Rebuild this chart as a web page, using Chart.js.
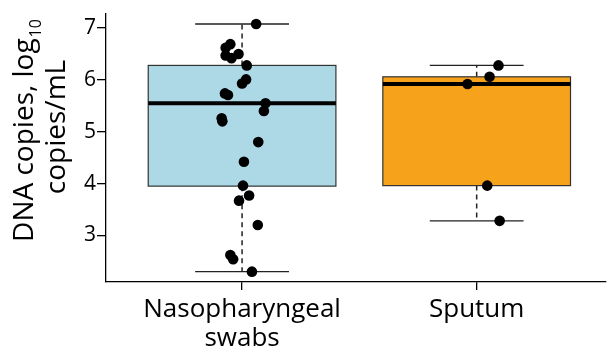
<!DOCTYPE html>
<html>
<head>
<meta charset="utf-8">
<script src="https://cdn.jsdelivr.net/npm/chart.js@4"></script>
<style>
  html, body { margin: 0; padding: 0; background: #fff; }
  #wrap { width: 611px; height: 353px; }
</style>
</head>
<body>
<div id="wrap"><canvas id="chart-dna"></canvas></div>
<script>
// categories and tick labels
var categories = [["Nasopharyngeal", "swabs"], ["Sputum"]];
var yTicks = [3, 4, 5, 6, 7];

// box statistics, one entry per category
var whiskerLow  = [2.30, 3.28];
var q1          = [3.95, 3.96];
var median      = [5.55, 5.92];
var q3          = [6.28, 6.06];
var whiskerHigh = [7.08, 6.28];

// individual samples (value + horizontal jitter)
var npValues = [7.08, 6.69, 6.62, 6.47, 6.42, 6.50, 6.28, 6.01, 5.93, 5.74, 5.71, 5.55,
                5.40, 5.26, 5.20, 4.80, 4.42, 3.96, 3.77, 3.67, 3.20, 2.62, 2.54, 2.30];
var npJitter = [0.06, -0.05, -0.07, -0.07, -0.045, -0.015, 0.02, 0.017, 0, -0.073, -0.06, 0.1,
                0.093, -0.087, -0.084, 0.069, 0.008, 0.004, 0.03, -0.013, 0.067, -0.05, -0.038, 0.042];
var sputumValues = [6.28, 6.06, 5.92, 3.96, 3.28];
var sputumJitter = [0.093, 0.055, -0.039, 0.045, 0.098];

var boxColors = ['#ADD8E6', '#F7A21B'];

function toPoints(values, jitter, pos) {
    return values.map(function (v, i) { return { x: pos + jitter[i], y: v }; });
}

// draws boxes and whiskers underneath the dots
var boxPlugin = {
    id: 'boxes',
    beforeDatasetsDraw: function (chart) {
        var ctx = chart.ctx;
        var xs = chart.scales.x, ys = chart.scales.y;
        for (var i = 0; i < categories.length; i++) {
            var pos = i + 1;
            var cx = xs.getPixelForValue(pos);
            var xl = xs.getPixelForValue(pos - 0.4), xr = xs.getPixelForValue(pos + 0.4);
            var cl = xs.getPixelForValue(pos - 0.2), cr = xs.getPixelForValue(pos + 0.2);
            var yq1 = ys.getPixelForValue(q1[i]), yq3 = ys.getPixelForValue(q3[i]);
            var ymed = ys.getPixelForValue(median[i]);
            var ylo = ys.getPixelForValue(whiskerLow[i]), yhi = ys.getPixelForValue(whiskerHigh[i]);
            ctx.save();
            // dashed whiskers
            ctx.strokeStyle = '#222';
            ctx.lineWidth = 1.5;
            ctx.setLineDash([5, 4]);
            ctx.beginPath();
            ctx.moveTo(cx, yq3); ctx.lineTo(cx, yhi);
            ctx.moveTo(cx, yq1); ctx.lineTo(cx, ylo);
            ctx.stroke();
            ctx.setLineDash([]);
            // caps
            ctx.lineWidth = 1.4;
            ctx.beginPath();
            ctx.moveTo(cl, yhi); ctx.lineTo(cr, yhi);
            ctx.moveTo(cl, ylo); ctx.lineTo(cr, ylo);
            ctx.stroke();
            // box
            ctx.fillStyle = boxColors[i];
            ctx.fillRect(xl, yq3, xr - xl, yq1 - yq3);
            ctx.strokeStyle = '#333';
            ctx.lineWidth = 1.2;
            ctx.strokeRect(xl, yq3, xr - xl, yq1 - yq3);
            // median
            ctx.strokeStyle = '#000';
            ctx.lineWidth = 4;
            ctx.beginPath();
            ctx.moveTo(xl, ymed); ctx.lineTo(xr, ymed);
            ctx.stroke();
            ctx.restore();
        }
    }
};

// y axis title with subscript
var titlePlugin = {
    id: 'ytitle',
    afterDraw: function (chart) {
        var ctx = chart.ctx;
        var cy = 131;
        ctx.save();
        ctx.fillStyle = '#000';
        ctx.translate(0, cy);
        ctx.rotate(-Math.PI / 2);
        ctx.textBaseline = 'alphabetic';
        var main = 'DNA copies, log', sub = '10';
        ctx.font = '28px "Open Sans"';
        var wMain = ctx.measureText(main).width;
        ctx.font = '16px "Open Sans"';
        var wSub = ctx.measureText(sub).width;
        var start = -(wMain + wSub) / 2;
        ctx.textAlign = 'left';
        ctx.font = '28px "Open Sans"';
        ctx.fillText(main, start, 33);
        ctx.font = '16px "Open Sans"';
        ctx.fillText(sub, start + wMain + 1, 41);
        ctx.font = '28px "Open Sans"';
        ctx.textAlign = 'center';
        ctx.fillText('copies/mL', 4, 65);
        ctx.restore();
    }
};

var ctx = document.getElementById('chart-dna').getContext('2d');
var chart = new Chart(ctx, {
    type: 'scatter',
    data: {
        datasets: [{
            label: 'Nasopharyngeal swabs',
            data: toPoints(npValues, npJitter, 1),
            backgroundColor: '#000',
            borderWidth: 0,
            pointRadius: 5.3
        }, {
            label: 'Sputum',
            data: toPoints(sputumValues, sputumJitter, 2),
            backgroundColor: '#000',
            borderWidth: 0,
            pointRadius: 5.3
        }]
    },
    options: {
        responsive: true,
        maintainAspectRatio: false,
        animation: false,
        layout: { padding: { top: 10, right: 0, left: 0, bottom: 0 } },
        plugins: {
            legend: { display: false },
            tooltip: { enabled: false }
        },
        scales: {
            x: {
                type: 'linear',
                min: 0.42,
                max: 2.55,
                afterBuildTicks: function (scale) {
                    scale.ticks = categories.map(function (c, i) { return { value: i + 1 }; });
                },
                afterFit: function (scale) { scale.height = 71; },
                ticks: {
                    callback: function (value, index) { return categories[index]; },
                    color: '#000',
                    font: { family: '"Open Sans"', size: 26, lineHeight: 1.12 },
                    padding: 5,
                    maxRotation: 0
                },
                grid: { drawOnChartArea: false, drawTicks: true, tickLength: 8, color: '#000', lineWidth: 1.3 },
                border: { display: true, color: '#000', width: 1.3 }
            },
            y: {
                min: 2.1,
                max: 7.28,
                afterBuildTicks: function (scale) {
                    scale.ticks = yTicks.map(function (v) { return { value: v }; });
                },
                afterFit: function (scale) { scale.width = 106; },
                ticks: {
                    color: '#000',
                    font: { family: '"Open Sans"', size: 21 },
                    padding: 1
                },
                grid: { drawOnChartArea: false, drawTicks: true, tickLength: 9, color: '#000', lineWidth: 1.3 },
                border: { display: true, color: '#000', width: 1.3 }
            }
        }
    },
    plugins: [boxPlugin, titlePlugin]
});
</script>
</body>
</html>
